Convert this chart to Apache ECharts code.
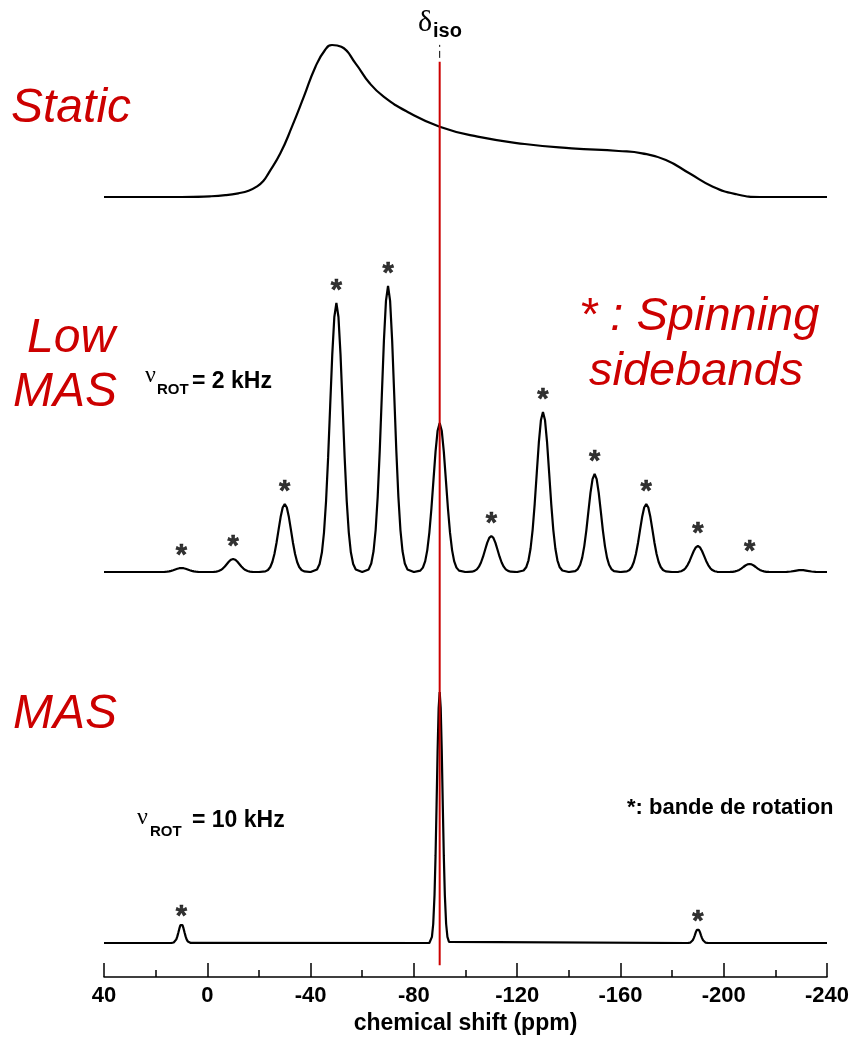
<!DOCTYPE html>
<html>
<head>
<meta charset="utf-8">
<script src="https://cdn.jsdelivr.net/npm/echarts@6/dist/echarts.min.js"></script>
<style>html,body{margin:0;padding:0;background:#fff}#c{width:854px;height:1040px}</style>
</head>
<body>
<div id="c"></div>
<script>
// ---- data (x = chemical shift in ppm, y = intensity, arbitrary units) ----
const xTicks = [40, 0, -40, -80, -120, -160, -200, -240];
const isoShift = -90;

// static (wide line) spectrum
const staticPoints = [
  [40,0],[10,0],[-1,0.7],[-7,1.8],[-12,3.7],[-16,6.3],[-19.3,10.6],[-21.7,16],[-23.7,23.7],[-28.3,43.7],[-32.8,70.3],[-37.4,100.3],
  [-41.9,130.3],[-45.6,147],[-48.3,152],[-51.9,150.3],[-57.4,133.7],[-62.9,113.7],[-68.3,100.3],
  [-77.4,85.3],[-90,70.3],[-104.7,60.3],[-122.9,53],[-141.1,48.7],[-159.3,46],[-168.4,43.7],
  [-177.6,37],[-186.7,23.7],[-195.8,10.3],[-205,2.7],[-214,0],[-240,0]
];

// low-speed MAS (2 kHz) spectrum
const lowMasPoints = [
  [40,0],[20,0],
  [17.5,0],[16.5,0.1],[15.6,0.3],[14.8,0.6],[14,1.1],[13.2,1.7],[12.4,2.5],[11.6,3.2],[10.8,3.8],[10,4],
  [9.2,3.8],[8.4,3.2],[7.6,2.5],[6.8,1.7],[6,1.1],[5.2,0.6],[4.4,0.3],[3.5,0.1],[2.5,0],
  [0,0],
  [-2.5,0.1],[-3.5,0.4],[-4.4,1],[-5.2,1.9],[-6,3.4],[-6.8,5.5],[-7.6,8],[-8.4,10.5],[-9.2,12.3],[-10,13],
  [-10.8,12.3],[-11.6,10.5],[-12.4,8],[-13.2,5.5],[-14,3.4],[-14.8,1.9],[-15.6,1],[-16.5,0.4],[-17.5,0.1],
  [-20,0],
  [-22.5,0.6],[-23.5,2],[-24.4,5],[-25.2,10],[-26,18],[-26.8,29],[-27.6,42.1],[-28.4,54.9],[-29.2,64.5],[-30,68],
  [-30.8,64.5],[-31.6,54.9],[-32.4,42.1],[-33.2,29],[-34,18],[-34.8,10],[-35.6,5],[-36.5,2],[-37.5,0.6],
  [-40,0],
  [-42.5,2.5],[-43.5,8],[-44.4,19.7],[-45.2,39.5],[-46,71],[-46.8,114.6],[-47.6,166.5],[-48.4,217.4],[-49.2,255],[-50,269],
  [-50.8,255],[-51.6,217.4],[-52.4,166.5],[-53.2,114.6],[-54,71],[-54.8,39.5],[-55.6,19.7],[-56.5,8],[-57.5,2.5],
  [-60,0],
  [-62.5,2.6],[-63.5,8.5],[-64.4,21],[-65.2,42],[-66,75.5],[-66.8,121.8],[-67.6,177],[-68.4,231.1],[-69.2,271.1],[-70,286],
  [-70.8,271.1],[-71.6,231.1],[-72.4,177],[-73.2,121.8],[-74,75.5],[-74.8,42],[-75.6,21],[-76.5,8.5],[-77.5,2.6],
  [-80,0],
  [-82.5,1.4],[-83.5,4.4],[-84.4,10.9],[-85.2,21.9],[-86,39.3],[-86.8,63.5],[-87.6,92.2],[-88.4,120.4],[-89.2,141.3],[-90,149],
  [-90.8,141.3],[-91.6,120.4],[-92.4,92.2],[-93.2,63.5],[-94,39.3],[-94.8,21.9],[-95.6,10.9],[-96.5,4.4],[-97.5,1.4],
  [-100,0],
  [-102.5,0.3],[-103.5,1.1],[-104.4,2.6],[-105.2,5.3],[-106,9.5],[-106.8,15.3],[-107.6,22.3],[-108.4,29.1],[-109.2,34.1],[-110,36],
  [-110.8,34.1],[-111.6,29.1],[-112.4,22.3],[-113.2,15.3],[-114,9.5],[-114.8,5.3],[-115.6,2.6],[-116.5,1.1],[-117.5,0.3],
  [-120,0],
  [-122.5,1.5],[-123.5,4.7],[-124.4,11.7],[-125.2,23.5],[-126,42.2],[-126.8,68.2],[-127.6,99],[-128.4,129.3],[-129.2,151.7],[-130,160],
  [-130.8,151.7],[-131.6,129.3],[-132.4,99],[-133.2,68.2],[-134,42.2],[-134.8,23.5],[-135.6,11.7],[-136.5,4.7],[-137.5,1.5],
  [-140,0],
  [-142.5,0.9],[-143.5,2.9],[-144.4,7.2],[-145.2,14.4],[-146,25.9],[-146.8,41.7],[-147.6,60.7],[-148.4,79.2],[-149.2,92.9],[-150,98],
  [-150.8,92.9],[-151.6,79.2],[-152.4,60.7],[-153.2,41.7],[-154,25.9],[-154.8,14.4],[-155.6,7.2],[-156.5,2.9],[-157.5,0.9],
  [-160,0],
  [-162.5,0.6],[-163.5,2],[-164.4,5],[-165.2,10],[-166,18],[-166.8,29],[-167.6,42.1],[-168.4,54.9],[-169.2,64.5],[-170,68],
  [-170.8,64.5],[-171.6,54.9],[-172.4,42.1],[-173.2,29],[-174,18],[-174.8,10],[-175.6,5],[-176.5,2],[-177.5,0.6],
  [-180,0],
  [-182.5,0.2],[-183.5,0.8],[-184.4,1.9],[-185.2,3.8],[-186,6.9],[-186.8,11.1],[-187.6,16.1],[-188.4,21],[-189.2,24.6],[-190,26],
  [-190.8,24.6],[-191.6,21],[-192.4,16.1],[-193.2,11.1],[-194,6.9],[-194.8,3.8],[-195.6,1.9],[-196.5,0.8],[-197.5,0.2],
  [-200,0],
  [-202.5,0.1],[-203.5,0.2],[-204.4,0.6],[-205.2,1.2],[-206,2.1],[-206.8,3.4],[-207.6,5],[-208.4,6.5],[-209.2,7.6],[-210,8],
  [-210.8,7.6],[-211.6,6.5],[-212.4,5],[-213.2,3.4],[-214,2.1],[-214.8,1.2],[-215.6,0.6],[-216.5,0.2],[-217.5,0.1],
  [-220,0],
  [-224.4,0.1],[-226,0.5],[-227.6,1.2],[-229.2,1.9],[-230,2],[-230.8,1.9],[-232.4,1.2],[-234,0.5],[-235.6,0.1],
  [-240,0]
];
// spinning sidebands marked with '*' (shift, peak height)
const lowMasStarShifts  = [10, -10, -30, -50, -70, -110, -130, -150, -170, -190, -210];
const lowMasStarHeights = [4, 13, 68, 269, 286, 36, 160, 98, 68, 26, 8];

// fast MAS (10 kHz) spectrum
const masPoints = [
  [40,0],[14,0],
  [13.6,0.1],[13,0.5],[12.5,1.4],[12,3.6],[11.6,6.6],[11.2,10.5],[10.8,14.6],[10.4,17.8],[10,19],
  [9.6,17.8],[9.2,14.6],[8.8,10.5],[8.4,6.6],[8,3.6],[7.5,1.4],[7,0.5],[6.4,0.1],[6,0],
  [-86,0],
  [-86.4,1.2],[-87,6.1],[-87.5,19],[-88,47.9],[-88.4,87.1],[-88.8,138.3],[-89.2,192.8],[-89.6,234.9],[-90,251],
  [-90.4,234.9],[-90.8,192.8],[-91.2,138.3],[-91.6,87.1],[-92,47.9],[-92.5,19],[-93,6.1],[-93.6,1.2],[-94,0],
  [-186,0],
  [-186.4,0.1],[-187,0.3],[-187.5,1.1],[-188,2.7],[-188.4,4.9],[-188.8,7.7],[-189.2,10.8],[-189.6,13.1],[-190,14],
  [-190.4,13.1],[-190.8,10.8],[-191.2,7.7],[-191.6,4.9],[-192,2.7],[-192.5,1.1],[-193,0.3],[-193.6,0.1],[-194,0],
  [-240,0]
];
const masStarShifts  = [10, -190];
const masStarHeights = [19, 14];

// ---- chart ----
const RED = '#cc0000';
const SANS = 'Liberation Sans, Arial, Helvetica, sans-serif';
const SERIF = 'Liberation Serif, DejaVu Serif, serif';

const chart = echarts.init(document.getElementById('c'), null, {renderer: 'canvas'});

function hiddenX(i) {
  return {type: 'value', gridIndex: i, min: -240, max: 40, inverse: true, show: false};
}
function hiddenY(i, max) {
  return {type: 'value', gridIndex: i, min: 0, max: max, show: false};
}
function stars(shifts, heights, axis, dist) {
  return {
    type: 'scatter', xAxisIndex: axis, yAxisIndex: axis,
    data: shifts.map((s, k) => [s, heights[k]]),
    symbolSize: 2, itemStyle: {color: 'rgba(0,0,0,0)'},
    label: {show: true, position: 'top', distance: dist, formatter: '*',
      color: '#000', fontFamily: SANS, fontWeight: 'bold', fontSize: 29,
      textBorderColor: '#000', textBorderWidth: 0.6},
    silent: true, z: 4
  };
}
function textEl(x, y, text, font, fill, align) {
  return {type: 'text', x: x, y: y, z: 50,
    style: {text: text, font: font, fill: fill,
      textAlign: align || 'left', align: align || 'left',
      textVerticalAlign: 'middle', verticalAlign: 'middle'}};
}

const option = {
  animation: false,
  backgroundColor: '#fff',
  grid: [
    {left: 104, right: 27, top: 37, height: 160},
    {left: 104, right: 27, top: 262, height: 310},
    {left: 104, right: 27, top: 683, height: 260},
    {left: 104, right: 27, top: 20, height: 960}
  ],
  xAxis: [
    hiddenX(0), hiddenX(1), hiddenX(2),
    {
      type: 'value', gridIndex: 3, min: -240, max: 40, interval: 40, inverse: true,
      position: 'bottom',
      name: 'chemical shift (ppm)', nameLocation: 'middle', nameGap: 33,
      nameTextStyle: {fontFamily: SANS, fontWeight: 'bold', fontSize: 23, color: '#000'},
      axisLine: {show: true, onZero: false, lineStyle: {color: '#000', width: 1.5}},
      axisTick: {show: true, inside: true, length: 14, lineStyle: {color: '#000', width: 1.5}},
      minorTick: {show: true, splitNumber: 2, length: 7, lineStyle: {color: '#000', width: 1.5}},
      axisLabel: {show: true, margin: 8, fontFamily: SANS, fontWeight: 'bold', fontSize: 22, color: '#000',
        formatter: v => (xTicks.indexOf(v) >= 0 ? String(v) : '')},
      splitLine: {show: false}, minorSplitLine: {show: false}
    }
  ],
  yAxis: [hiddenY(0, 160), hiddenY(1, 310), hiddenY(2, 260), hiddenY(3, 960)],
  series: [
    {type: 'line', name: 'Static', xAxisIndex: 0, yAxisIndex: 0, data: staticPoints,
      smooth: 0.5, symbol: 'none', lineStyle: {color: '#000', width: 2.2}, z: 3},
    {type: 'line', name: 'Low MAS', xAxisIndex: 1, yAxisIndex: 1, data: lowMasPoints,
      smooth: false, symbol: 'none', lineStyle: {color: '#000', width: 2.2}, z: 3},
    {type: 'line', name: 'MAS', xAxisIndex: 2, yAxisIndex: 2, data: masPoints,
      smooth: false, symbol: 'none', lineStyle: {color: '#000', width: 2.2}, z: 3},
    stars(lowMasStarShifts, lowMasStarHeights, 1, -3),
    stars(masStarShifts, masStarHeights, 2, -8),
    {type: 'line', name: 'delta iso', xAxisIndex: 3, yAxisIndex: 3,
      data: [[isoShift, 12], [isoShift, 918]], symbol: 'none',
      lineStyle: {color: RED, width: 2}, z: 10, silent: true},
    {type: 'line', name: 'iso mark', xAxisIndex: 3, yAxisIndex: 3,
      data: [[isoShift, 922], [isoShift, 936]], symbol: 'none',
      lineStyle: {color: '#000', width: 1, type: [7, 4, 2, 10]}, z: 10, silent: true}
  ],
  graphic: [
    textEl(418, 23, 'δ', '30px ' + SERIF, '#000'),
    textEl(433, 31, 'iso', 'bold 20px ' + SANS, '#000'),
    textEl(11, 109, 'Static', 'italic 48px ' + SANS, RED),
    textEl(27, 339, 'Low', 'italic 48px ' + SANS, RED),
    textEl(13, 393, 'MAS', 'italic 48px ' + SANS, RED),
    textEl(13, 715, 'MAS', 'italic 48px ' + SANS, RED),
    textEl(579, 317, '* : Spinning', 'italic 47px ' + SANS, RED),
    textEl(589, 372, 'sidebands', 'italic 47px ' + SANS, RED),
    textEl(145, 376, 'ν', '24px ' + SERIF, '#000'),
    textEl(157, 390, 'ROT', 'bold 15px ' + SANS, '#000'),
    textEl(192, 382, '= 2 kHz', 'bold 23px ' + SANS, '#000'),
    textEl(137, 818, 'ν', '24px ' + SERIF, '#000'),
    textEl(150, 832, 'ROT', 'bold 15px ' + SANS, '#000'),
    textEl(192, 821, '= 10 kHz', 'bold 23px ' + SANS, '#000'),
    textEl(627, 808, '*: bande de rotation', 'bold 22px ' + SANS, '#000')
  ]
};
chart.setOption(option);
</script>
</body>
</html>
